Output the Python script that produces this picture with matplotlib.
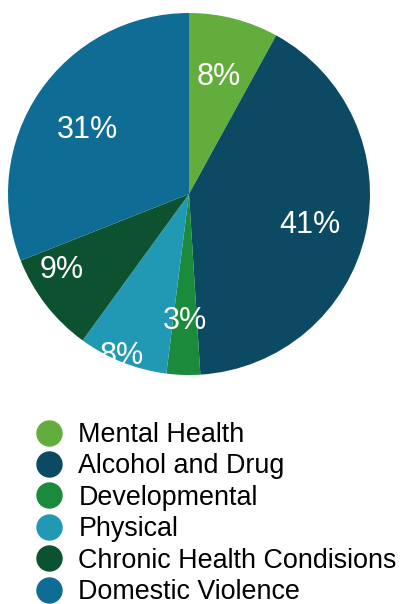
import numpy as np
import matplotlib.pyplot as plt
from matplotlib.lines import Line2D

plt.rcParams['font.family'] = ['Liberation Sans', 'DejaVu Sans']

# Data
categories = ['Mental Health', 'Alcohol and Drug', 'Developmental', 'Physical',
              'Chronic Health Condisions', 'Domestic Violence']
shares = [8, 41, 3, 8, 9, 31]
colors = ['#63ad3c', '#0b4a62', '#1b8a3a', '#2199b4', '#0d5230', '#0f6d95']

# label placement (radius fraction, angle offset in degrees)
label_r = [0.67, 0.69, 0.70, 0.97, 0.82, 0.66]
label_da = [0, -2, 0, -1, -7, 2]

fig = plt.figure(figsize=(4.01, 6.04), dpi=100)
W, H = 401, 604
cx, cy, r = 189, 194, 181
ax = fig.add_axes([(cx - r) / W, 1 - (cy + r) / H, 2 * r / W, 2 * r / H])

wedges, _ = ax.pie(shares, colors=colors, startangle=90, counterclock=False,
                   wedgeprops=dict(linewidth=0))
for w, s, lr, da in zip(wedges, shares, label_r, label_da):
    ang = np.deg2rad((w.theta1 + w.theta2) / 2 + da)
    ax.text(lr * np.cos(ang), lr * np.sin(ang), f'{s}%', color='white',
            fontsize=22, ha='center', va='center', zorder=1)
ax.set_xlim(-1, 1)
ax.set_ylim(-1, 1)
ax.set_aspect('equal')

handles = [Line2D([], [], marker='o', linestyle='', markersize=18,
                  markerfacecolor=c, markeredgecolor=c) for c in colors]
fig.legend(handles, categories, loc='upper left',
           bbox_to_anchor=(34 / W, 1 - 422 / H), frameon=False,
           fontsize=19.4, labelspacing=0.2, handletextpad=0.55,
           handlelength=1.1, borderpad=0, borderaxespad=0)

fig.savefig('out.png', dpi=100)
